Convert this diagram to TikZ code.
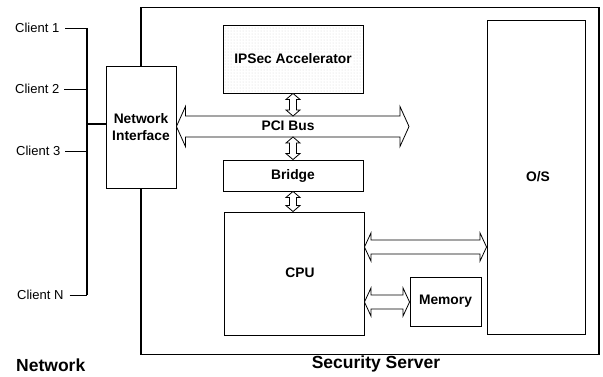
\documentclass[tikz,border=0pt]{standalone}
\usepackage{fontspec}
\setmainfont{Liberation Sans}
\usetikzlibrary{calc,patterns}
\tikzset{
  lblfont/.style={font=\fontsize{13.8}{16}\selectfont\bfseries},
  box/.style={draw, line width=0.9pt, rectangle, inner sep=0pt, lblfont, align=center},
  outerbox/.style={draw, line width=1.4pt},
  clientlbl/.style={font=\fontsize{13}{15}\selectfont, anchor=west, inner sep=0pt},
  biglbl/.style={font=\fontsize{17.5}{20}\selectfont\bfseries, inner sep=0pt},
  tick/.style={line width=0.9pt},
  busline/.style={line width=2.4pt},
  fatarrow/.style={draw, line width=0.8pt, fill=white, line join=miter}
}
% horizontal hollow double arrow: #1 left tip, #2 right tip (same y), #3 shaft half, #4 head half, #5 head length
\newcommand\hdarrow[5]{%
  \path[fatarrow] let \p1=(#1), \p2=(#2) in
    (\x1,\y1) -- (\x1+#5,\y1+#4) -- (\x1+#5,\y1+#3) -- (\x2-#5,\y1+#3) -- (\x2-#5,\y1+#4)
    -- (\x2,\y1) -- (\x2-#5,\y1-#4) -- (\x2-#5,\y1-#3) -- (\x1+#5,\y1-#3) -- (\x1+#5,\y1-#4) -- cycle;}
% vertical hollow double arrow: #1 top tip, #2 bottom tip (same x)
\newcommand\vdarrow[5]{%
  \path[fatarrow] let \p1=(#1), \p2=(#2) in
    (\x1,\y1) -- (\x1+#4,\y1-#5) -- (\x1+#3,\y1-#5) -- (\x1+#3,\y2+#5) -- (\x1+#4,\y2+#5)
    -- (\x1,\y2) -- (\x1-#4,\y2+#5) -- (\x1-#3,\y2+#5) -- (\x1-#3,\y1-#5) -- (\x1-#4,\y1-#5) -- cycle;}
\begin{document}
\begin{tikzpicture}[x=1pt,y=-1pt]
\useasboundingbox (0,0) rectangle (603,376);

% outer security server box
\node[outerbox, minimum width=458pt, minimum height=347pt, inner sep=0pt] (server) at (370,181) {};

% boxes
\node[box, minimum width=70pt, minimum height=122pt, fill=white] (ni) at (141,127) {Network\\[1pt]Interface};
\node[box, minimum width=140pt, minimum height=68pt, pattern=dots, pattern color=gray!35] (ipsec) at (293,59) {};
\node[lblfont, fill=white, fill opacity=0.85, text opacity=1, inner sep=1pt] (ipseclbl) at (ipsec.center) {IPSec Accelerator};
\node[box, minimum width=140pt, minimum height=31pt] (bridge) at (293,175.5) {Bridge};
\node[box, minimum width=140pt, minimum height=123pt] (cpu) at (294,273.5) {};
\node[lblfont] (cpulbl) at (300,273) {CPU};
\node[box, minimum width=98pt, minimum height=314pt] (os) at (536,177) {};
\node[lblfont] (oslbl) at (538,177) {O/S};
\node[box, minimum width=71pt, minimum height=49pt] (mem) at (445.5,301.5) {Memory};

% network bus
\coordinate (bustop) at (87,28);
\coordinate (busbot) at (87,295);
\draw[busline] (bustop) -- (busbot);
\node[clientlbl] (c1) at (15,28) {Client 1};
\node[clientlbl] (c2) at (15,89) {Client 2};
\node[clientlbl] (c3) at (16,151) {Client 3};
\node[clientlbl] (cn) at (17,295) {Client N};
\draw[tick] ([xshift=6pt]c1.east) -- (bustop |- c1.east);
\draw[tick] ([xshift=5pt]c2.east) -- (bustop |- c2.east);
\draw[tick] ([xshift=5pt]c3.east) -- (bustop |- c3.east);
\draw[tick] ([xshift=6pt]cn.east) -- (busbot |- cn.east);
\coordinate (stub) at (87,124);
\draw[line width=1.4pt] (stub) -- (ni.west |- stub);

% PCI bus
\coordinate (pciR) at (409,126.5);
\hdarrow{ni.east |- pciR}{pciR}{10.5pt}{20pt}{9pt}
\node[lblfont] (pcilbl) at (288,126) {PCI Bus};
\coordinate (pcitop) at (293,116);
\coordinate (pcibot) at (293,137);

% vertical connectors
\vdarrow{ipsec.south}{pcitop}{3.5pt}{7pt}{6pt}
\vdarrow{pcibot}{bridge.north}{3.5pt}{7pt}{6pt}
\vdarrow{bridge.south}{bridge.south |- cpu.north}{3.5pt}{7pt}{6pt}

% CPU to O/S and memory
\coordinate (cpuos) at (364,247);
\hdarrow{cpu.east |- cpuos}{os.west |- cpuos}{7pt}{14pt}{6.5pt}
\coordinate (cpumem) at (364,302);
\hdarrow{cpu.east |- cpumem}{mem.west |- cpumem}{7pt}{14pt}{6.5pt}

% labels
\node[biglbl, anchor=west] (netlbl) at (16,365) {Network};
\node[biglbl] (srvlbl) at (376,364) {Security Server};
\end{tikzpicture}
\end{document}
